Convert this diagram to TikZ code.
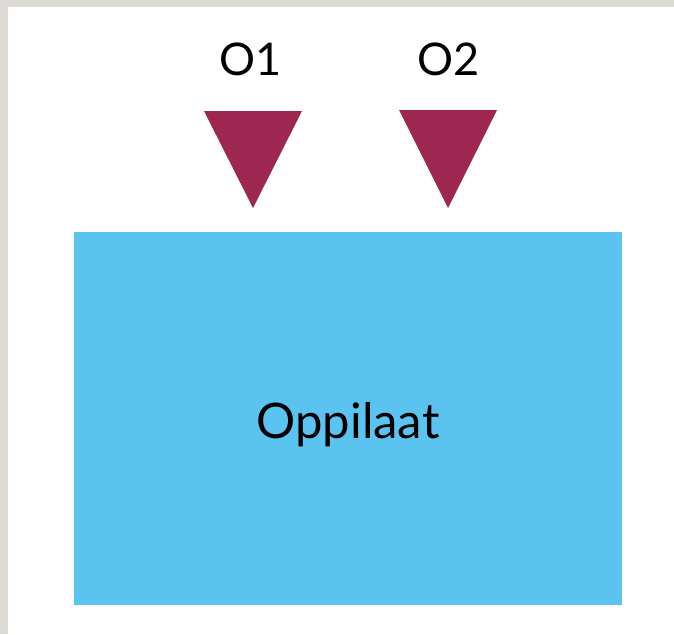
\documentclass[tikz,border=0pt]{standalone}
\usepackage{fontspec}
\setmainfont{Lato}
\definecolor{frame}{HTML}{DDD9D4}
\definecolor{tri}{HTML}{9E2752}
\definecolor{box}{HTML}{5BC3F0}
\tikzset{
  lbl/.style={anchor=base, inner sep=0pt, font=\fontsize{45}{45}\selectfont},
  boxlbl/.style={anchor=base, inner sep=0pt, font=\fontsize{49}{49}\selectfont},
}
\begin{document}
\begin{tikzpicture}[x=1pt,y=-1pt]
\useasboundingbox (0,0) rectangle (674,634);
\fill[frame] (0,0) rectangle (674,634);
\fill[white] (8,7) rectangle (674,634);
\fill[box] (74,232) rectangle (622,605);
\coordinate (rc) at (348,438);
\node[boxlbl] (opp) at (rc) {Oppilaat};
\fill[tri] (204,111) -- (302,111) -- (253,208) -- cycle;
\fill[tri] (399,110) -- (497,110) -- (448,208) -- cycle;
\node[lbl] (o1) at (251,75) {O1};
\node[lbl] (o2) at (449,75) {O2};
\end{tikzpicture}
\end{document}
